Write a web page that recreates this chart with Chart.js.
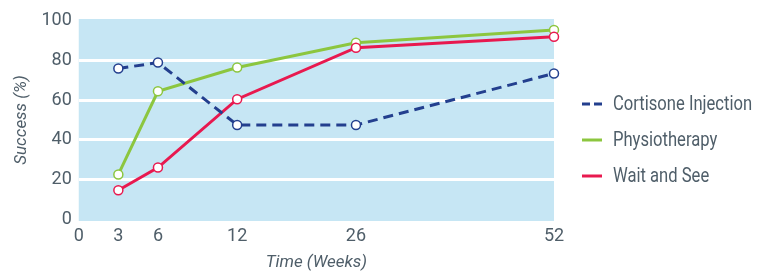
<!DOCTYPE html>
<html>
<head>
<meta charset="utf-8">
<script src="https://cdn.jsdelivr.net/npm/chart.js@4/dist/chart.umd.min.js"></script>
<style>
  html, body { margin: 0; padding: 0; background: #fff; }
  #wrap { width: 767px; height: 278px; }
</style>
</head>
<body>
<div id="wrap"><canvas id="myChart" width="767" height="278"></canvas></div>
<script>
// weeks measured, and success (%) for each group
var weeks = [3, 6, 12, 26, 52];
var weekTicks = [0, 3, 6, 12, 26, 52];
var cortisone = [76, 79, 47.5, 47.5, 73.5];
var physio = [22.5, 64.5, 76.5, 89, 95.5];
var waitAndSee = [14.5, 26, 60.5, 86.5, 92];
var seriesNames = ['Cortisone Injection', 'Physiotherapy', 'Wait and See'];
var yTicks = [0, 20, 40, 60, 80, 100];

// the x axis in the original is not to scale: each week gets its own slot
var slotOf = { 0: 0, 3: 1, 6: 2, 12: 4, 26: 7, 52: 12 };

var textColor = '#4f5e69';
var fontFamily = "Roboto, 'Liberation Sans', sans-serif";

function points(values) {
    return weeks.map(function (w, i) { return { x: slotOf[w], y: values[i] }; });
}

function lineSet(label, values, color, dash, order) {
    return {
        label: label,
        data: points(values),
        borderColor: color,
        borderWidth: 3,
        borderDash: dash,
        pointRadius: 4.5,
        pointHoverRadius: 4.5,
        pointBorderWidth: 1.5,
        pointBackgroundColor: '#ffffff',
        pointBorderColor: color,
        tension: 0,
        order: order
    };
}

var plotBackground = {
    id: 'plotBackground',
    beforeDraw: function (chart) {
        var a = chart.chartArea;
        var ctx = chart.ctx;
        ctx.save();
        ctx.fillStyle = '#c6e6f4';
        ctx.fillRect(a.left, a.top, a.right - a.left, a.bottom - a.top);
        ctx.restore();
    }
};

// legend at the right, text squeezed a little like the condensed face of the original
var sideLegend = {
    id: 'sideLegend',
    afterDraw: function (chart) {
        var ctx = chart.ctx;
        var x = chart.chartArea.right + 28;
        var y = 104;
        ctx.save();
        ctx.textBaseline = 'middle';
        chart.data.datasets.forEach(function (ds) {
            ctx.strokeStyle = ds.borderColor;
            ctx.lineWidth = 3;
            ctx.setLineDash(ds.borderDash.length ? [8, 4] : []);
            ctx.beginPath();
            ctx.moveTo(x, y);
            ctx.lineTo(x + 20, y);
            ctx.stroke();
            ctx.setLineDash([]);
            ctx.save();
            ctx.translate(x + 31, y);
            ctx.scale(0.83, 1);
            ctx.font = '20px ' + fontFamily;
            ctx.fillStyle = textColor;
            ctx.fillText(ds.label, 0, 1);
            ctx.restore();
            y += 36;
        });
        ctx.restore();
    }
};

var ctx = document.getElementById('myChart').getContext('2d');
var myChart = new Chart(ctx, {
    type: 'line',
    data: {
        datasets: [
            lineSet(seriesNames[0], cortisone, '#233f8e', [10, 6], 0),
            lineSet(seriesNames[1], physio, '#8cc63f', [], 2),
            lineSet(seriesNames[2], waitAndSee, '#e8194f', [], 1)
        ]
    },
    plugins: [plotBackground, sideLegend],
    options: {
        responsive: false,
        animation: false,
        clip: false,
        layout: {
            padding: { left: 0, top: 19, right: 213, bottom: 0 }
        },
        plugins: {
            legend: { display: false },
            tooltip: { enabled: false }
        },
        scales: {
            x: {
                type: 'linear',
                min: 0,
                max: 12,
                afterBuildTicks: function (axis) {
                    axis.ticks = weekTicks.map(function (w) { return { value: slotOf[w] }; });
                },
                ticks: {
                    color: textColor,
                    font: { family: fontFamily, size: 18 },
                    padding: 5,
                    maxRotation: 0,
                    autoSkip: false,
                    callback: function (value) {
                        for (var w in slotOf) { if (slotOf[w] === value) return w; }
                        return '';
                    }
                },
                grid: { display: false, drawTicks: false },
                border: { display: false },
                title: {
                    display: true,
                    text: 'Time (Weeks)',
                    color: textColor,
                    font: { family: fontFamily, size: 17, style: 'italic' },
                    padding: { top: 0, bottom: 5 }
                }
            },
            y: {
                min: -1,
                max: 101,
                afterBuildTicks: function (axis) {
                    axis.ticks = yTicks.map(function (v) { return { value: v }; });
                },
                ticks: {
                    color: textColor,
                    font: { family: fontFamily, size: 18 },
                    padding: 7
                },
                grid: {
                    drawTicks: false,
                    lineWidth: 3,
                    color: function (c) {
                        var v = c.tick && c.tick.value;
                        return (v > 0 && v < 100) ? '#ffffff' : 'rgba(0,0,0,0)';
                    }
                },
                border: { display: false },
                title: {
                    display: true,
                    text: 'Success (%)',
                    color: textColor,
                    font: { family: fontFamily, size: 17, style: 'italic' },
                    padding: { top: 12, bottom: 2 }
                }
            }
        }
    }
});
</script>
</body>
</html>
